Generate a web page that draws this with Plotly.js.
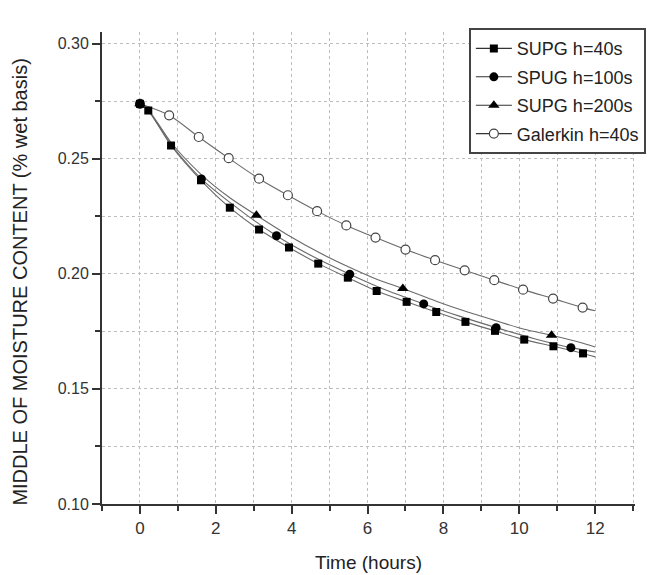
<!DOCTYPE html>
<html>
<head>
<meta charset="utf-8">
<script src="https://cdn.plot.ly/plotly-3.0.1.min.js"></script>
<style>
html,body{margin:0;padding:0;background:#fff;}
#chart{width:657px;height:575px;}
</style>
</head>
<body>
<div id="chart"></div>
<script>
// ---- Data ----
var seriesNames = ["SUPG h=40s", "SPUG h=100s", "SUPG h=200s", "Galerkin h=40s"];

// SUPG h=40s (filled squares)
var sq40MarkX = [0, 0.22, 0.82, 1.61, 2.37, 3.14, 3.93, 4.70, 5.48, 6.24, 7.03, 7.81, 8.58, 9.36, 10.13, 10.90, 11.68];
var sq40MarkY = [0.2738, 0.2709, 0.2557, 0.2406, 0.2287, 0.2192, 0.2114, 0.2044, 0.1983, 0.1925, 0.1878, 0.1834, 0.1791, 0.1752, 0.1714, 0.1685, 0.1654];
var sq40LineX = [0, 0.22, 0.82, 1.61, 2.37, 3.14, 3.93, 4.70, 5.48, 6.24, 7.03, 7.81, 8.58, 9.36, 10.13, 10.90, 11.68, 12];
var sq40LineY = [0.2738, 0.2709, 0.2557, 0.2406, 0.2287, 0.2192, 0.2114, 0.2044, 0.1983, 0.1925, 0.1878, 0.1834, 0.1791, 0.1752, 0.1714, 0.1685, 0.1654, 0.1639];

// SPUG h=100s (filled circles)
var ci100MarkX = [0, 1.62, 3.60, 5.53, 7.48, 9.39, 11.36];
var ci100MarkY = [0.2738, 0.2412, 0.2165, 0.1998, 0.1869, 0.1766, 0.1679];
var ci100LineX = [0, 0.22, 0.82, 1.62, 2.37, 3.60, 4.50, 5.53, 6.50, 7.48, 8.40, 9.39, 10.40, 11.36, 12];
var ci100LineY = [0.2738, 0.2710, 0.2562, 0.2412, 0.2310, 0.2165, 0.2080, 0.1998, 0.1928, 0.1869, 0.1817, 0.1766, 0.1718, 0.1679, 0.1660];

// SUPG h=200s (filled triangles)
var tr200MarkX = [0, 3.07, 6.93, 10.85];
var tr200MarkY = [0.2738, 0.2254, 0.1936, 0.1733];
var tr200LineX = [0, 0.22, 0.82, 1.61, 2.37, 3.07, 3.93, 4.70, 5.48, 6.24, 6.93, 7.81, 8.58, 9.36, 10.13, 10.85, 11.68, 12];
var tr200LineY = [0.2738, 0.2712, 0.2570, 0.2432, 0.2330, 0.2254, 0.2165, 0.2094, 0.2031, 0.1976, 0.1936, 0.1881, 0.1837, 0.1797, 0.1759, 0.1733, 0.1698, 0.1682];

// Galerkin h=40s (open circles)
var galMarkX = [0, 0.77, 1.55, 2.34, 3.14, 3.90, 4.67, 5.44, 6.21, 7.00, 7.78, 8.56, 9.34, 10.10, 10.89, 11.67];
var galMarkY = [0.2738, 0.2688, 0.2594, 0.2502, 0.2413, 0.2341, 0.2272, 0.2210, 0.2157, 0.2105, 0.2059, 0.2015, 0.1972, 0.1931, 0.1892, 0.1853];
var galLineX = galMarkX.concat([12]);
var galLineY = galMarkY.concat([0.1839]);

var lineColor = "#6a6a6a";
var lineW = 1.1;

function lineTrace(x, y) {
  return {x: x, y: y, type: "scatter", mode: "lines", showlegend: false, hoverinfo: "skip",
          line: {color: lineColor, width: lineW, shape: "spline", smoothing: 0.8}};
}
function markTrace(x, y, mk) {
  return {x: x, y: y, type: "scatter", mode: "markers", showlegend: false, marker: mk};
}
function legendTrace(name, mk, grp) {
  return {x: [null], y: [null], type: "scatter", mode: "lines+markers", name: name,
          legendgroup: grp, line: {color: "#333", width: 1.1}, marker: mk};
}

var mkSq = {symbol: "square", size: 8, color: "#000"};
var mkCi = {symbol: "circle", size: 9, color: "#000"};
var mkTr = {symbol: "triangle-up", size: 10, color: "#000"};
var mkGal = {symbol: "circle", size: 9, color: "#fff", line: {color: "#444", width: 1.2}};

var data = [
  lineTrace(galLineX, galLineY),
  lineTrace(sq40LineX, sq40LineY),
  lineTrace(ci100LineX, ci100LineY),
  lineTrace(tr200LineX, tr200LineY),
  markTrace(galMarkX, galMarkY, mkGal),
  markTrace(tr200MarkX, tr200MarkY, mkTr),
  markTrace(ci100MarkX, ci100MarkY, mkCi),
  markTrace(sq40MarkX, sq40MarkY, mkSq),
  legendTrace(seriesNames[0], mkSq, "g1"),
  legendTrace(seriesNames[1], mkCi, "g2"),
  legendTrace(seriesNames[2], mkTr, "g3"),
  legendTrace(seriesNames[3], mkGal, "g4")
];

var gridColor = "#bdbdbd";

var layout = {
  width: 657, height: 575,
  margin: {l: 102, r: 21, t: 32, b: 71, pad: 0},
  paper_bgcolor: "#fff", plot_bgcolor: "#fff",
  font: {family: "Liberation Sans, Arial, sans-serif", color: "#222"},
  showlegend: true,
  xaxis: {
    range: [-1, 13.05], tickmode: "linear", tick0: 0, dtick: 2,
    ticks: "outside", ticklen: 8, tickwidth: 2, tickcolor: "#333",
    showline: true, linecolor: "#333", linewidth: 2,
    showgrid: true, gridcolor: gridColor, gridwidth: 1, griddash: "dot",
    zeroline: false,
    tickfont: {size: 17, color: "#333"},
    minor: {dtick: 1, tick0: 0, ticks: "outside", ticklen: 5, tickwidth: 2, tickcolor: "#333",
            showgrid: true, gridcolor: gridColor, gridwidth: 1, griddash: "dot"},
    title: {text: "Time (hours)", font: {size: 19, color: "#222"}, standoff: 18}
  },
  yaxis: {
    range: [0.10, 0.305], tickmode: "linear", tick0: 0.10, dtick: 0.05,
    tickformat: ".2f",
    ticks: "outside", ticklen: 8, tickwidth: 2, tickcolor: "#333",
    showline: true, linecolor: "#333", linewidth: 2,
    showgrid: true, gridcolor: gridColor, gridwidth: 1, griddash: "dot",
    zeroline: false,
    tickfont: {size: 16, color: "#333"},
    minor: {dtick: 0.025, tick0: 0.10, ticks: "outside", ticklen: 5, tickwidth: 2, tickcolor: "#333",
            showgrid: true, gridcolor: gridColor, gridwidth: 1, griddash: "dot"}
  },
  legend: {
    x: 0.687, y: 1.008, xanchor: "left", yanchor: "top",
    bgcolor: "#fff", bordercolor: "#444", borderwidth: 2,
    font: {size: 18, color: "#222"},
    itemwidth: 36, tracegroupgap: 2, traceorder: "grouped"
  },
  annotations: [{
    text: "MIDDLE OF MOISTURE CONTENT (% wet basis)",
    xref: "paper", yref: "paper", x: -0.153, y: 0.47,
    xanchor: "center", yanchor: "middle", textangle: -90, showarrow: false,
    font: {size: 20, color: "#222"}
  }]
};

Plotly.newPlot("chart", data, layout, {displayModeBar: false, staticPlot: true});
</script>
</body>
</html>
